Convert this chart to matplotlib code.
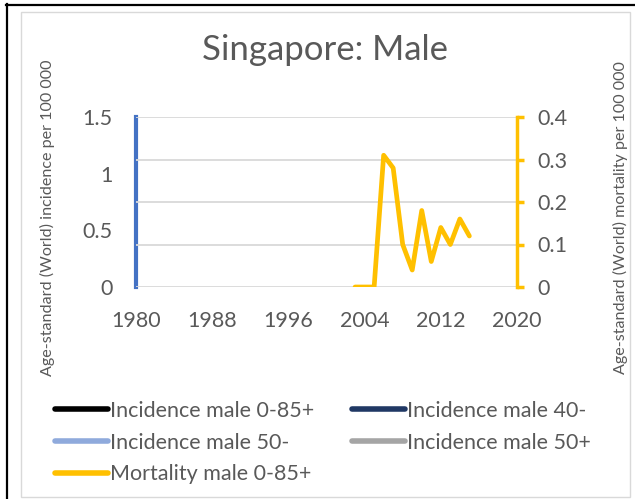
import matplotlib
matplotlib.use('Agg')
import matplotlib.pyplot as plt
from matplotlib.lines import Line2D

plt.rcParams['font.family'] = ['Lato', 'DejaVu Sans']

# данные
years_mort = [2003, 2004, 2005, 2006, 2007, 2008, 2009, 2010, 2011, 2012, 2013, 2014, 2015]
mort_male = [0, 0, 0, 0.31, 0.28, 0.10, 0.04, 0.18, 0.06, 0.14, 0.10, 0.16, 0.12]
inc_years = []
inc_0_85 = []
inc_40 = []
inc_50m = []
inc_50p = []
x_ticks = [1980, 1988, 1996, 2004, 2012, 2020]
left_ticks = [0, 0.5, 1, 1.5]
right_ticks = [0, 0.1, 0.2, 0.3, 0.4]

txt = '#595959'
W, H = 635, 499
fig = plt.figure(figsize=(W / 100, H / 100), dpi=100)

# рамки
fig.add_artist(plt.Rectangle((21 / W, 1 - 497 / H), 609 / W, 485 / H, transform=fig.transFigure,
                             fill=False, ec='#d9d9d9', lw=1))
fig.add_artist(Line2D([6.5 / W, 6.5 / W], [0, 1 - 4 / H], color='black', lw=1.6, transform=fig.transFigure))
fig.add_artist(Line2D([6 / W, 634 / W], [1 - 4.5 / H, 1 - 4.5 / H], color='black', lw=1.6, transform=fig.transFigure))

ax = fig.add_axes([136 / W, 1 - 287 / H, 381 / W, 170 / H])
ax2 = ax.twinx()

l1, = ax.plot(inc_years, inc_0_85, color='black', lw=3, label='Incidence male 0-85+')
l2, = ax.plot(inc_years, inc_40, color='#203864', lw=3, label='Incidence male 40-')
l3, = ax.plot(inc_years, inc_50m, color='#8faadc', lw=3, label='Incidence male 50-')
l4, = ax.plot(inc_years, inc_50p, color='#a5a5a5', lw=3, label='Incidence male 50+')
l5, = ax2.plot(years_mort, mort_male, color='#ffc000', lw=3.4, solid_joinstyle='round',
               solid_capstyle='round', label='Mortality male 0-85+')

ax.set_xlim(1980, 2020)
ax.set_ylim(0, 1.5)
ax2.set_ylim(0, 0.4)
ax.set_xticks(x_ticks)
ax.set_yticks(left_ticks)
ax.set_yticklabels(['0', '0.5', '1', '1.5'])
ax2.set_yticks(right_ticks)
ax2.set_yticklabels(['0', '0.1', '0.2', '0.3', '0.4'])

for y in right_ticks:
    ax2.axhline(y, color='#d9d9d9', lw=1.3, zorder=0)

for s in ['top', 'bottom', 'right']:
    ax.spines[s].set_visible(False)
for s in ['top', 'bottom', 'left']:
    ax2.spines[s].set_visible(False)
ax.spines['left'].set_color('#4472c4')
ax.spines['left'].set_linewidth(3)
ax2.spines['right'].set_color('#ffc000')
ax2.spines['right'].set_linewidth(2.5)

fs = 15.5
ax.tick_params(axis='x', length=0, labelsize=fs, labelcolor=txt, pad=17)
ax.tick_params(axis='y', length=0, labelsize=fs, labelcolor=txt, pad=17)
ax2.tick_params(axis='y', length=5, width=2.5, color='#ffc000', labelsize=fs, labelcolor=txt, pad=10)

fig.text(325 / W, 1 - 50 / H, 'Singapore: Male', ha='center', va='center', fontsize=25, color=txt)
fig.text(47 / W, 1 - 218 / H, 'Age-standard (World) incidence per 100 000', rotation=90,
         ha='center', va='center', fontsize=11.6, color=txt)
fig.text(620 / W, 1 - 218 / H, 'Age-standard (World) mortality per 100 000', rotation=90,
         ha='center', va='center', fontsize=11.6, color=txt)

leg = fig.legend([l1, l3, l5, l2, l4], [h.get_label() for h in [l1, l3, l5, l2, l4]],
                 ncol=2, loc='upper left', bbox_to_anchor=(44 / W, 1 - 390 / H), frameon=False,
                 fontsize=fs, handlelength=2.45, handletextpad=0.12, columnspacing=1.75, labelspacing=0.55,
                 borderpad=0)
for ln in leg.get_lines():
    ln.set_linewidth(4)
    ln.set_solid_capstyle('round')
for t in leg.get_texts():
    t.set_color(txt)

fig.savefig('out.png', dpi=100)
